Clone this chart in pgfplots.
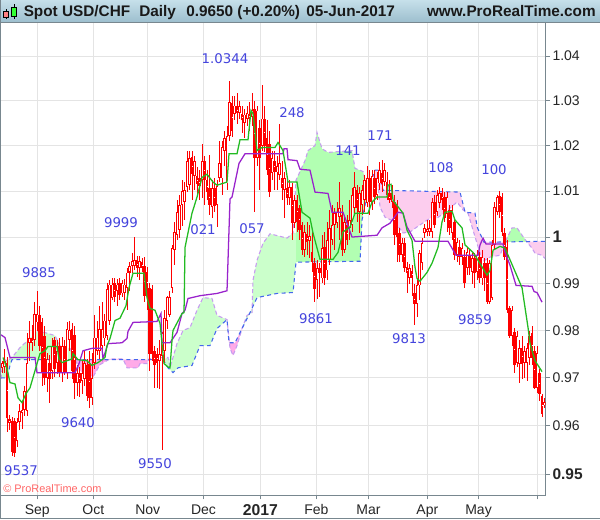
\documentclass[border=0pt]{standalone}
\usepackage{fontspec}
\usepackage{pgfplots}
\usepackage{pgfplotstable}
\pgfplotsset{compat=1.18}
\setmainfont{Liberation Sans}
\newfontfamily\labelfont{DejaVu Sans}
\definecolor{framec}{HTML}{78878F}
\definecolor{gridc}{HTML}{E4E4E4}
\definecolor{annot}{HTML}{4444DD}
\definecolor{tenkan}{HTML}{22BB22}
\definecolor{kijun}{HTML}{9922CC}
\definecolor{spana}{HTML}{C69CF0}
\definecolor{spanb}{HTML}{4466EE}
\definecolor{greenA}{HTML}{CBFFCB}
\definecolor{greenB}{HTML}{B2FFB2}
\definecolor{pinkA}{HTML}{FFAAE8}
\definecolor{pinkB}{HTML}{FCCDEE}
\definecolor{stripT}{HTML}{C6E0EA}
\definecolor{stripB}{HTML}{9DBFCE}

% daily bars: i hi lo open close
\pgfplotstableread{
i hi lo o c
0 0.9736 0.9711 0.9721 0.9732
1 0.9760 0.9711 0.9723 0.9736
2 0.9745 0.9586 0.9732 0.9615
3 0.9623 0.9590 0.9615 0.9606
4 0.9619 0.9537 0.9610 0.9545
5 0.9615 0.9535 0.9610 0.9543
6 0.9615 0.9555 0.9569 0.9608
7 0.9646 0.9590 0.9608 0.9631
8 0.9652 0.9594 0.9627 0.9633
9 0.9683 0.9621 0.9633 0.9673
10 0.9794 0.9621 0.9631 0.9732
11 0.9821 0.9736 0.9774 0.9783
12 0.9811 0.9757 0.9783 0.9774
13 0.9860 0.9768 0.9779 0.9836
14 0.9885 0.9800 0.9817 0.9836
15 0.9853 0.9757 0.9834 0.9768
16 0.9826 0.9683 0.9817 0.9711
17 0.9809 0.9685 0.9789 0.9700
18 0.9753 0.9671 0.9700 0.9740
19 0.9747 0.9648 0.9732 0.9698
20 0.9783 0.9698 0.9715 0.9768
21 0.9787 0.9702 0.9779 0.9719
22 0.9779 0.9709 0.9732 0.9757
23 0.9783 0.9702 0.9768 0.9711
24 0.9787 0.9692 0.9711 0.9768
25 0.9779 0.9706 0.9768 0.9711
26 0.9817 0.9698 0.9711 0.9804
27 0.9819 0.9757 0.9779 0.9802
28 0.9815 0.9698 0.9804 0.9715
29 0.9809 0.9656 0.9791 0.9690
30 0.9726 0.9663 0.9690 0.9711
31 0.9723 0.9660 0.9711 0.9690
32 0.9736 0.9667 0.9694 0.9711
33 0.9757 0.9683 0.9698 0.9732
34 0.9740 0.9652 0.9726 0.9663
35 0.9757 0.9637 0.9730 0.9658
36 0.9753 0.9642 0.9658 0.9700
37 0.9832 0.9719 0.9732 0.9785
38 0.9821 0.9747 0.9757 0.9785
39 0.9853 0.9740 0.9757 0.9804
40 0.9860 0.9753 0.9768 0.9804
41 0.9836 0.9768 0.9783 0.9821
42 0.9902 0.9779 0.9789 0.9889
43 0.9907 0.9811 0.9821 0.9898
44 0.9911 0.9864 0.9870 0.9898
45 0.9911 0.9860 0.9902 0.9872
46 0.9909 0.9853 0.9885 0.9898
47 0.9911 0.9864 0.9902 0.9876
48 0.9907 0.9872 0.9879 0.9902
49 0.9909 0.9864 0.9881 0.9898
50 0.9933 0.9843 0.9891 0.9924
51 0.9946 0.9885 0.9924 0.9937
52 0.9965 0.9922 0.9937 0.9948
53 1.0000 0.9928 0.9937 0.9950
54 0.9959 0.9915 0.9950 0.9933
55 0.9959 0.9907 0.9933 0.9948
56 0.9954 0.9924 0.9946 0.9933
57 0.9957 0.9860 0.9937 0.9874
58 0.9935 0.9843 0.9924 0.9881
59 0.9902 0.9715 0.9891 0.9751
60 0.9898 0.9736 0.9889 0.9751
61 0.9768 0.9679 0.9757 0.9728
62 0.9762 0.9679 0.9751 0.9732
63 0.9779 0.9677 0.9736 0.9751
64 0.9796 0.9550 0.9747 0.9794
65 0.9843 0.9732 0.9757 0.9826
66 0.9874 0.9804 0.9821 0.9872
67 0.9885 0.9828 0.9832 0.9872
68 0.9983 0.9881 0.9891 0.9976
69 1.0033 0.9939 0.9972 1.0011
70 1.0080 0.9993 1.0004 1.0054
71 1.0091 0.9998 1.0015 1.0069
72 1.0124 1.0024 1.0069 1.0100
73 1.0120 1.0037 1.0076 1.0102
74 1.0189 1.0098 1.0109 1.0167
75 1.0189 1.0102 1.0113 1.0172
76 1.0189 1.0080 1.0174 1.0137
77 1.0178 1.0102 1.0133 1.0167
78 1.0152 1.0089 1.0133 1.0115
79 1.0146 1.0080 1.0128 1.0111
80 1.0204 1.0085 1.0124 1.0167
81 1.0178 1.0069 1.0167 1.0124
82 1.0146 1.0080 1.0124 1.0098
83 1.0180 1.0048 1.0107 1.0069
84 1.0124 1.0041 1.0065 1.0107
85 1.0128 1.0054 1.0107 1.0067
86 1.0124 1.0022 1.0069 1.0111
87 1.0211 1.0120 1.0130 1.0161
88 1.0211 1.0091 1.0128 1.0196
89 1.0233 1.0156 1.0189 1.0218
90 1.0244 1.0102 1.0117 1.0222
91 1.0343 1.0211 1.0222 1.0296
92 1.0311 1.0220 1.0296 1.0233
93 1.0311 1.0256 1.0271 1.0289
94 1.0318 1.0249 1.0287 1.0273
95 1.0300 1.0260 1.0273 1.0289
96 1.0289 1.0229 1.0271 1.0256
97 1.0282 1.0216 1.0251 1.0269
98 1.0289 1.0244 1.0260 1.0273
99 1.0296 1.0233 1.0271 1.0260
100 1.0318 1.0244 1.0264 1.0278
101 1.0300 1.0054 1.0282 1.0172
102 1.0287 1.0156 1.0172 1.0278
103 1.0256 1.0102 1.0240 1.0172
104 1.0334 1.0189 1.0200 1.0260
105 1.0289 1.0185 1.0260 1.0200
106 1.0256 1.0135 1.0218 1.0146
107 1.0233 1.0087 1.0204 1.0098
108 1.0189 1.0124 1.0141 1.0172
109 1.0189 1.0102 1.0167 1.0141
110 1.0178 1.0102 1.0141 1.0156
111 1.0247 1.0124 1.0135 1.0161
112 1.0167 1.0080 1.0130 1.0107
113 1.0141 1.0041 1.0102 1.0128
114 1.0124 1.0069 1.0107 1.0085
115 1.0124 1.0069 1.0085 1.0109
116 1.0117 0.9993 1.0109 1.0030
117 1.0091 1.0020 1.0030 1.0080
118 1.0091 1.0011 1.0080 1.0033
119 1.0069 0.9993 1.0063 1.0015
120 1.0033 0.9961 1.0026 0.9972
121 1.0026 0.9957 0.9972 1.0011
122 1.0033 0.9961 1.0007 0.9989
123 1.0026 0.9954 0.9991 1.0002
124 1.0015 0.9924 0.9967 0.9946
125 0.9954 0.9860 0.9944 0.9889
126 0.9950 0.9868 0.9907 0.9933
127 0.9944 0.9872 0.9933 0.9922
128 1.0004 0.9902 0.9911 0.9976
129 1.0011 0.9896 0.9978 0.9911
130 1.0033 0.9907 0.9928 0.9993
131 1.0059 0.9939 0.9950 1.0020
132 1.0069 0.9983 0.9993 1.0026
133 1.0063 0.9972 1.0026 1.0052
134 1.0076 1.0020 1.0030 1.0054
135 1.0120 0.9993 1.0043 1.0063
136 1.0069 0.9959 1.0048 0.9972
137 1.0048 0.9965 0.9972 1.0033
138 1.0048 0.9983 1.0026 0.9993
139 1.0080 0.9993 1.0020 1.0037
140 1.0107 1.0011 1.0026 1.0091
141 1.0141 1.0048 1.0063 1.0109
142 1.0113 1.0033 1.0102 1.0063
143 1.0109 1.0009 1.0054 1.0095
144 1.0113 1.0048 1.0069 1.0102
145 1.0135 1.0054 1.0080 1.0124
146 1.0156 1.0065 1.0074 1.0128
147 1.0146 1.0048 1.0128 1.0076
148 1.0146 1.0059 1.0074 1.0133
149 1.0146 1.0072 1.0128 1.0087
150 1.0141 1.0080 1.0091 1.0128
151 1.0163 1.0102 1.0117 1.0146
152 1.0169 1.0098 1.0141 1.0115
153 1.0161 1.0111 1.0120 1.0146
154 1.0141 1.0080 1.0120 1.0091
155 1.0124 1.0074 1.0095 1.0080
156 1.0113 1.0063 1.0076 1.0095
157 1.0091 0.9983 1.0076 1.0004
158 1.0080 0.9946 1.0069 1.0000
159 1.0020 0.9946 1.0009 0.9961
160 0.9998 0.9946 0.9961 0.9987
161 0.9998 0.9924 0.9987 0.9933
162 0.9946 0.9879 0.9935 0.9922
163 0.9941 0.9900 0.9913 0.9933
164 0.9939 0.9874 0.9928 0.9911
165 0.9900 0.9811 0.9879 0.9857
166 0.9911 0.9828 0.9857 0.9896
167 0.9972 0.9864 0.9896 0.9965
168 0.9998 0.9928 0.9944 0.9987
169 1.0028 0.9998 1.0009 1.0020
170 1.0037 1.0002 1.0018 1.0011
171 1.0037 1.0002 1.0011 1.0020
172 1.0085 0.9998 1.0011 1.0076
173 1.0091 1.0020 1.0076 1.0026
174 1.0102 1.0046 1.0054 1.0091
175 1.0109 1.0063 1.0074 1.0095
176 1.0107 1.0059 1.0095 1.0080
177 1.0098 1.0033 1.0087 1.0041
178 1.0098 1.0011 1.0050 1.0087
179 1.0069 1.0004 1.0059 1.0020
180 1.0069 0.9993 1.0009 1.0059
181 1.0041 0.9950 1.0033 0.9961
182 0.9998 0.9946 0.9961 0.9989
183 0.9993 0.9939 0.9978 0.9957
184 0.9987 0.9939 0.9957 0.9976
185 0.9972 0.9891 0.9957 0.9902
186 0.9976 0.9918 0.9933 0.9967
187 0.9972 0.9918 0.9961 0.9933
188 0.9965 0.9900 0.9924 0.9954
189 0.9965 0.9891 0.9954 0.9922
190 0.9972 0.9907 0.9924 0.9961
191 0.9967 0.9902 0.9957 0.9911
192 0.9972 0.9898 0.9911 0.9957
193 0.9954 0.9885 0.9944 0.9911
194 0.9954 0.9857 0.9944 0.9860
195 0.9950 0.9857 0.9860 0.9944
196 0.9993 0.9864 0.9870 0.9983
197 1.0076 0.9972 0.9983 1.0065
198 1.0091 1.0048 1.0054 1.0087
199 1.0100 1.0041 1.0089 1.0054
200 1.0095 1.0002 1.0087 1.0011
201 1.0020 0.9950 1.0009 0.9957
202 0.9993 0.9838 0.9978 0.9843
203 0.9851 0.9783 0.9847 0.9789
204 0.9853 0.9768 0.9789 0.9843
205 0.9806 0.9711 0.9796 0.9726
206 0.9800 0.9723 0.9732 0.9789
207 0.9779 0.9690 0.9730 0.9762
208 0.9789 0.9698 0.9762 0.9730
209 0.9768 0.9700 0.9732 0.9757
210 0.9774 0.9694 0.9732 0.9762
211 0.9800 0.9726 0.9743 0.9789
212 0.9809 0.9726 0.9794 0.9743
213 0.9768 0.9677 0.9757 0.9679
214 0.9768 0.9669 0.9679 0.9753
215 0.9719 0.9652 0.9711 0.9667
216 0.9667 0.9619 0.9663 0.9625
217 0.9658 0.9637 0.9642 0.9650
}\bars

\pgfplotstableread{
x y
3 0.9743
7 0.9719
10 0.9690
15 0.9687
18 0.9658
22 0.9648
26 0.9667
30 0.9679
35 0.9715
37 0.9730
40 0.9751
45 0.9757
48 0.9766
57 0.9766
59 0.9740
62 0.9732
72 0.9740
73 0.9751
78 0.9738
87 0.9736
92 0.9726
98 0.9732
105 0.9743
107 0.9768
110 0.9783
115 0.9821
120 0.9826
126 0.9853
129 0.9891
133 0.9922
144 0.9922
147 0.9870
150 0.9847
155 0.9843
160 0.9815
162 0.9772
164 0.9730
168 0.9723
170 0.9721
172 0.9779
173 0.9800
182 0.9836
184 0.9838
185 0.9978
192 1.0052
197 1.0087
202 1.0130
207 1.0137
213 1.0120
217 1.0113
227 1.0120
229 1.0182
237 1.0182
240 1.0213
248 1.0213
251 1.0278
253 1.0271
257 1.0189
262 1.0196
275 1.0196
278 1.0207
283 1.0189
288 1.0120
297 1.0120
302 1.0054
310 1.0041
313 1.0009
320 0.9952
333 0.9952
338 0.9967
343 1.0011
350 1.0022
355 1.0052
368 1.0052
372 1.0076
377 1.0087
387 1.0087
388 1.0113
391 1.0115
393 1.0080
403 1.0052
407 1.0015
412 0.9993
415 0.9935
417 0.9911
420 0.9905
427 0.9924
432 0.9944
438 0.9978
442 1.0033
445 1.0054
452 1.0056
455 1.0037
462 1.0020
465 0.9983
473 0.9967
478 0.9950
487 0.9918
490 0.9928
493 0.9972
500 0.9980
505 0.9976
522 0.9891
528 0.9806
530 0.9772
535 0.9736
542 0.9713
}\tenkantable

\pgfplotstableread{
x y
1 0.9791
5 0.9785
10 0.9743
35 0.9743
37 0.9711
75 0.9711
79 0.9730
83 0.9757
92 0.9762
102 0.9762
103 0.9740
108 0.9772
122 0.9774
127 0.9783
128 0.9798
133 0.9817
157 0.9819
161 0.9836
162 0.9774
170 0.9774
177 0.9796
182 0.9836
185 0.9843
188 0.9868
200 0.9874
217 0.9879
227 0.9885
228 0.9950
230 1.0083
232 1.0087
239 1.0161
245 1.0182
283 1.0182
284 1.0193
287 1.0193
288 1.0169
297 1.0167
300 1.0148
310 1.0146
315 1.0098
328 1.0095
332 1.0054
343 1.0054
352 1.0000
377 1.0004
382 1.0020
390 1.0030
398 1.0054
403 1.0052
407 1.0022
415 0.9991
448 0.9991
456 0.9961
478 0.9961
480 0.9983
483 0.9998
486 0.9985
503 0.9985
505 0.9967
510 0.9939
516 0.9896
532 0.9894
534 0.9883
537 0.9881
542 0.9860
}\kijuntable

\pgfplotstableread{
x y
1 0.9698
3 0.9740
7 0.9736
12 0.9743
20 0.9764
28 0.9779
38 0.9800
55 0.9789
60 0.9768
70 0.9762
75 0.9740
80 0.9715
93 0.9702
100 0.9728
110 0.9740
123 0.9740
127 0.9721
138 0.9721
140 0.9730
147 0.9730
149 0.9740
163 0.9743
168 0.9743
170 0.9721
177 0.9772
183 0.9800
190 0.9806
197 0.9843
203 0.9870
212 0.9868
217 0.9832
227 0.9823
230 0.9762
233 0.9747
237 0.9768
242 0.9804
247 0.9832
252 0.9838
253 0.9907
257 0.9950
263 0.9987
270 1.0007
287 0.9998
293 1.0009
296 1.0124
305 1.0167
308 1.0189
315 1.0200
317 1.0229
322 1.0193
328 1.0185
352 1.0189
355 1.0150
363 1.0143
367 1.0109
370 1.0111
375 1.0124
378 1.0113
380 1.0065
385 1.0043
395 1.0033
403 1.0009
410 1.0011
417 1.0022
430 1.0041
437 1.0041
445 1.0054
457 1.0076
463 1.0059
468 1.0052
473 1.0015
480 0.9965
482 0.9946
490 0.9957
500 0.9961
505 0.9989
512 1.0020
517 1.0020
522 1.0004
527 0.9989
532 0.9976
535 0.9965
542 0.9961
545 0.9954
}\spanatable

\pgfplotstableread{
x y
1 0.9700
7 0.9700
10 0.9726
12 0.9738
163 0.9738
168 0.9721
173 0.9711
178 0.9721
192 0.9726
200 0.9768
210 0.9768
217 0.9804
227 0.9823
229 0.9774
235 0.9774
242 0.9804
250 0.9838
257 0.9870
277 0.9879
293 0.9881
296 0.9946
360 0.9948
362 1.0037
368 1.0102
375 1.0146
378 1.0146
383 1.0102
460 1.0098
465 1.0054
475 1.0052
477 1.0022
484 0.9989
545 0.9991
}\spanbtable

\begin{document}
\begin{tikzpicture}
\useasboundingbox (0,0) rectangle (450pt,389.25pt);
% frame and title strip
\begin{scope}[x=0.75pt,y=-0.75pt,yshift=389.25pt]
\fill[white] (0,0) rectangle (600,519);
\shade[top color=stripT, bottom color=stripB] (0,0) rectangle (600,22);
\draw[framec,line width=0.75pt] (0.4,0) -- (0.4,518.6) -- (600,518.6);
\draw[framec,line width=0.75pt] (0,22.5) -- (600,22.5);
\end{scope}

\begin{axis}[
    at={(0.75pt,18pt)}, anchor=south west,
    scale only axis,
    width=408.4pt, height=354pt,
    ymode=log,
    xmin=1, xmax=545.5,
    ymin=0.9457, ymax=1.04746,
    axis x line*=bottom,
    axis y line*=right,
    axis line style={framec,line width=0.75pt},
    xtick={37.3,93.3,147.7,203.5,260.3,316.3,368.5,427.3,478.5,537.3},
    xticklabels={Sep,Oct,Nov,Dec,{\fontsize{11.8}{12}\selectfont\bfseries 2017},Feb,Mar,Apr,May,},
    ytick={0.95,0.96,0.97,0.98,0.99,1,1.01,1.02,1.03,1.04},
    yticklabels={{\fontsize{11.6}{12}\selectfont\bfseries 0.95},0.96,0.97,0.98,0.99,{\fontsize{12.5}{12}\selectfont\bfseries 1},1.01,1.02,1.03,1.04},
    tick align=outside,
    major tick length=3.5pt,
    tick style={framec,line width=0.75pt},
    tick label style={font=\fontsize{10.5}{12}\selectfont,black!85},
    xmajorgrids, ymajorgrids,
    grid style={gridc,line width=0.75pt},
    xticklabel style={yshift=-0.5pt},
    yticklabel style={xshift=-1.8pt},
]
% cloud areas, turned where the two edges cross
\addplot[fill=greenA,draw=none] coordinates {(1,0.9698)(3,0.9740)(7,0.9736)(12,0.9743)(20,0.9764)(28,0.9779)(38,0.9800)(55,0.9789)(60,0.9768)(70,0.9762)(75,0.9740)(76,0.9738)(12,0.9738)(10,0.9726)(7,0.9700)(1,0.9700)} -- cycle;
\addplot[fill=pinkA,draw=none] coordinates {(76,0.9738)(148,0.9738)(147,0.9730)(140,0.9730)(138,0.9721)(127,0.9721)(123,0.9740)(110,0.9740)(100,0.9728)(93,0.9702)(80,0.9715)} -- cycle;
\addplot[fill=greenA,draw=none] coordinates {(163,0.9738)(168,0.9743)(170,0.9721)(177,0.9772)(183,0.9800)(190,0.9806)(197,0.9843)(203,0.9870)(212,0.9868)(217,0.9832)(227,0.9823)(217,0.9804)(210,0.9768)(200,0.9768)(192,0.9726)(178,0.9721)(173,0.9711)(168,0.9721)} -- cycle;
\addplot[fill=pinkA,draw=none] coordinates {(227,0.9823)(229,0.9774)(235,0.9774)(242,0.9804)(237,0.9768)(233,0.9747)(230,0.9762)} -- cycle;
\addplot[fill=greenA,draw=none] coordinates {(242,0.9804)(247,0.9832)(252,0.9838)(253,0.9907)(257,0.9950)(263,0.9987)(270,1.0007)(287,0.9998)(293,1.0009)(296,1.0009)(296,0.9946)(293,0.9881)(277,0.9879)(257,0.9870)(250,0.9838)} -- cycle;
\addplot[fill=greenB,draw=none] coordinates {(296,1.0124)(305,1.0167)(308,1.0189)(315,1.0200)(317,1.0229)(322,1.0193)(328,1.0185)(352,1.0189)(355,1.0150)(363,1.0143)(367,1.0109)(368,1.0102)(362,1.0037)(360,0.9948)(296,0.9946)} -- cycle;
\addplot[fill=pinkB,draw=none] coordinates {(368,1.0102)(375,1.0146)(378,1.0146)(383,1.0102)(460,1.0098)(465,1.0054)(475,1.0052)(477,1.0022)(484,0.9989)(505,0.9990)(505,0.9989)(500,0.9961)(490,0.9957)(482,0.9946)(480,0.9965)(473,1.0015)(468,1.0052)(463,1.0059)(457,1.0076)(445,1.0054)(437,1.0041)(430,1.0041)(417,1.0022)(410,1.0011)(403,1.0009)(395,1.0033)(385,1.0043)(380,1.0065)(378,1.0113)(375,1.0124)(370,1.0111)} -- cycle;
\addplot[fill=greenB,draw=none] coordinates {(505,0.9990)(512,1.0020)(517,1.0020)(522,1.0004)(527,0.9990)} -- cycle;
\addplot[fill=pinkB,draw=none] coordinates {(527,0.9990)(545,0.9991)(545,0.9954)(542,0.9961)(535,0.9965)(532,0.9976)} -- cycle;
% cloud edges
\addplot[spana,line width=0.8pt,dash pattern=on 3pt off 2pt] table[x=x,y=y] {\spanatable};
\addplot[spanb,line width=0.8pt,dash pattern=on 3pt off 2.5pt] table[x=x,y=y] {\spanbtable};
% wicks
\addplot[draw=none,no markers,error bars/.cd,y dir=both,y explicit,error mark=none,
    error bar style={red,line width=0.75pt}]
    table[x expr=2+2.5*\thisrow{i},y expr=\thisrow{c},
      y error plus expr={max(\thisrow{hi}-\thisrow{c},0.00001)},y error minus expr={max(\thisrow{c}-\thisrow{lo},0.00001)}] {\bars};
% bodies
\addplot[draw=none,no markers,error bars/.cd,y dir=both,y explicit,error mark=none,
    error bar style={red,line width=2.1pt}]
    table[x expr=2+2.5*\thisrow{i},y expr=(\thisrow{o}+\thisrow{c})/2,
      y error plus expr={abs(\thisrow{c}-\thisrow{o})/2},y error minus expr={abs(\thisrow{c}-\thisrow{o})/2}] {\bars};
% hollow middle of the up days
\addplot[draw=none,no markers,error bars/.cd,y dir=both,y explicit,error mark=none,
    error bar style={white,line width=0.4pt}]
    table[x expr=2+2.5*\thisrow{i},y expr=(\thisrow{o}+\thisrow{c})/2,
      y error plus expr={max((\thisrow{c}-\thisrow{o}-0.0004)/2,0.00001)},
      y error minus expr={max((\thisrow{c}-\thisrow{o}-0.0004)/2,0.00001)}] {\bars};
\addplot[kijun,line width=0.95pt] table[x=x,y=y] {\kijuntable};
\addplot[tenkan,line width=0.95pt] table[x=x,y=y] {\tenkantable};
\end{axis}

\begin{scope}[x=0.75pt,y=-0.75pt,yshift=389.25pt]
% title strip text
\draw[black,line width=0.4pt,fill=red!50!white] (3.5,11.5) rectangle (8.5,17.5);
\draw[black,line width=0.4pt] (6,9.5) -- (6,11.5) (6,17.5) -- (6,19.5);
\draw[black,line width=0.4pt,fill=green!80!white] (11.5,7.5) rectangle (16.5,16.5);
\draw[black,line width=0.4pt] (14,4.5) -- (14,7.5) (14,16.5) -- (14,19.5);
\begin{scope}[every node/.style={font=\fontsize{11.5}{12}\selectfont\bfseries,inner sep=0pt,anchor=base west,black!90}]
\node at (23.5,17) {Spot USD/CHF};
\node at (139,17) {Daily};
\node at (186,17) {0.9650 (+0.20\%)};
\node at (306,17) {05-Jun-2017};
\node[anchor=base east] at (596,17) {www.ProRealTime.com};
\end{scope}
% turning point labels
\begin{scope}[every node/.style={font=\labelfont\fontsize{10}{12}\selectfont,inner sep=0pt,annot}]
\node at (225,59) {1.0344};
\node at (292,113) {248};
\node at (348,151) {141};
\node at (380,136) {171};
\node at (441,168) {108};
\node at (494,170) {100};
\node at (121,223) {9999};
\node at (203,230) {021};
\node at (252,229) {057};
\node at (39,273) {9885};
\node at (316,319) {9861};
\node at (409,339) {9813};
\node at (475,320) {9859};
\node at (78,423) {9640};
\node at (21,471) {9537};
\node at (155,464) {9550};
\end{scope}
\node[font=\fontsize{8.2}{10}\selectfont,text=red!60!white,inner sep=0pt,anchor=west] at (3,489) {\textcopyright{} ProRealTime.com};
\end{scope}
\end{tikzpicture}
\end{document}
